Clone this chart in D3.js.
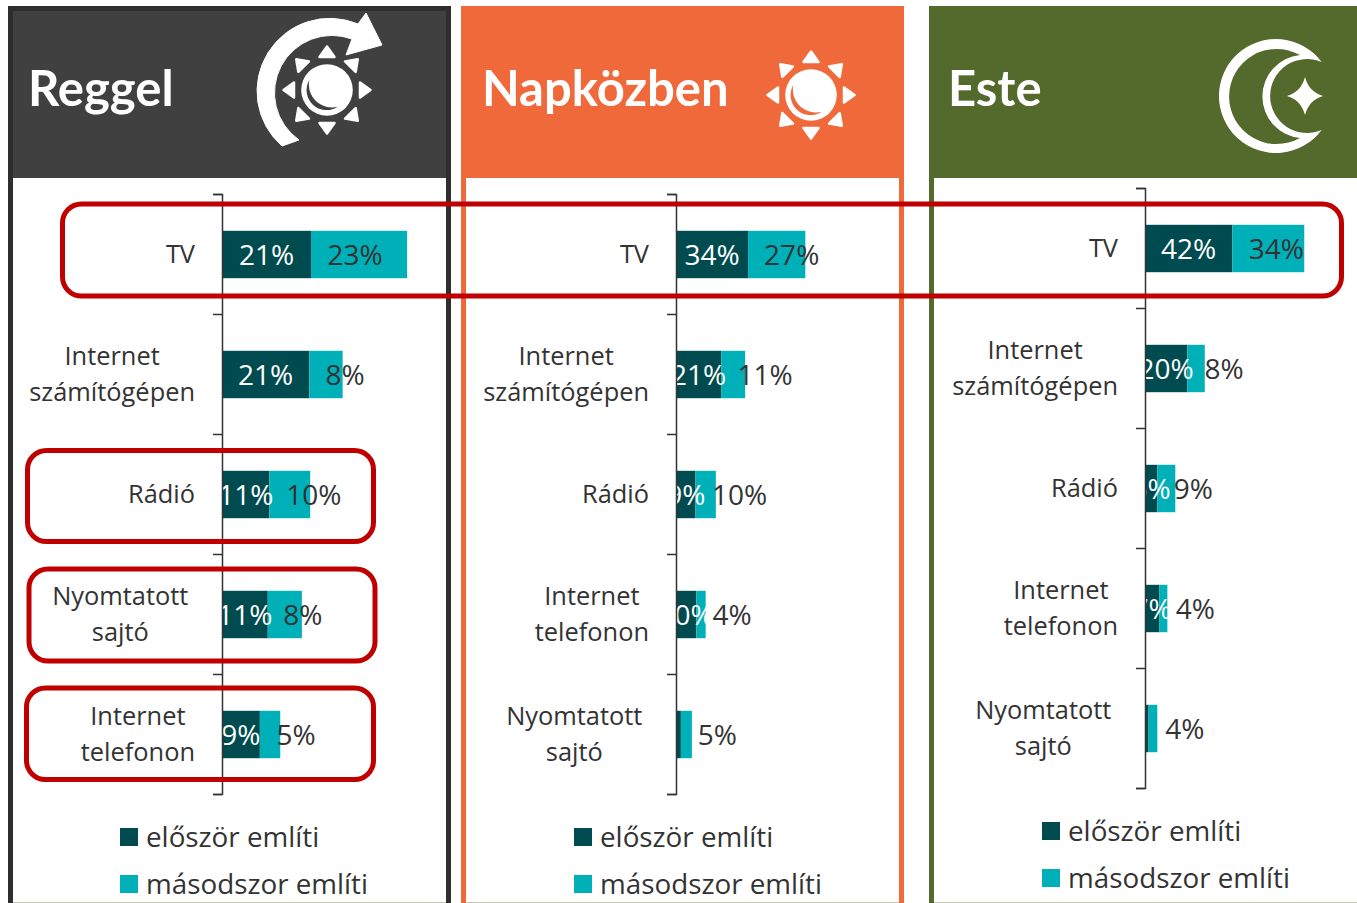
<!DOCTYPE html>
<html lang="hu">
<head>
<meta charset="utf-8">
<title>Reggel, napközben, este</title>
<script src="https://cdn.jsdelivr.net/npm/d3@7"></script>
<style>
  html, body { margin: 0; padding: 0; background: #fff; }
  svg { display: block; }
  text { font-family: "Open Sans", sans-serif; }
</style>
</head>
<body>
<script>

// data (share of people, %)
var titles = ["Reggel", "Napközben", "Este"];
var seriesNames = ["először említi", "másodszor említi"];

var categoriesMorning = ["TV", "Internet\nszámítógépen", "Rádió", "Nyomtatott\u00a0\nsajtó\u00a0", "Internet\ntelefonon"];
var firstMorning = [21.4, 21, 11.4, 11, 9.1];
var secondMorning = [23.1, 8, 9.8, 8.2, 4.9];

var categoriesDay = ["TV", "Internet\nszámítógépen", "Rádió", "Internet\ntelefonon", "Nyomtatott\u00a0\nsajtó\u00a0"];
var firstDay = [34, 21.3, 9.2, 9.6, 2.3];
var secondDay = [27, 11.3, 9.6, 4.4, 5.2];

var categoriesEvening = ["TV", "Internet\nszámítógépen", "Rádió", "Internet\ntelefonon", "Nyomtatott\u00a0\nsajtó\u00a0"];
var firstEvening = [41.8, 20.2, 5.9, 6.8, 1.7];
var secondEvening = [34.4, 8.4, 8.6, 3.9, 4.2];

// the labels were dragged by hand in the original, these are the px shifts
var nudgeMorning = [-4, 19, 24, 18, 26];
var nudgeDay = [15, 32, 34, 31, 31];
var nudgeEvening = [8, 28, 27, 32, 32];

var colors = ["#004b50", "#00b0b9"];
var width = 1357, height = 903;

var panels = [
  { title: titles[0], cats: categoriesMorning, a: firstMorning, b: secondMorning, nudge: nudgeMorning,
    x: 8, w: 443, color: "#404040", edge: "#2e2e2e", axisX: 222, top: 194, perCent: 4.16, legendX: 120, legendY: 828, icon: "arrowSun", iconX: 327, iconY: 90, titleX: 28 },
  { title: titles[1], cats: categoriesDay, a: firstDay, b: secondDay, nudge: nudgeDay,
    x: 461, w: 443, color: "#f0693a", edge: "#f0693a", axisX: 676, top: 194, perCent: 2.12, legendX: 574, legendY: 828, icon: "sun", iconX: 811, iconY: 95, titleX: 482 },
  { title: titles[2], cats: categoriesEvening, a: firstEvening, b: secondEvening, nudge: nudgeEvening,
    x: 929, w: 440, color: "#546a2d", edge: "#546a2d", axisX: 1145, top: 188, perCent: 2.09, legendX: 1042, legendY: 822, icon: "moon", iconX: 1276, iconY: 96, titleX: 948 }
];

var svg = d3.select("body").append("svg")
    .attr("width", width)
    .attr("height", height);

panels.forEach(drawPanel);

// red highlight frames go on top of everything
var frames = [
  [62.5, 204, 1279, 92],
  [27.5, 450.5, 346, 91],
  [29, 569, 346, 92],
  [26.5, 688, 347, 91.5]
];
svg.selectAll("rect.frame").data(frames).enter().append("rect")
    .attr("class", "frame")
    .attr("x", function(d) { return d[0]; })
    .attr("y", function(d) { return d[1]; })
    .attr("width", function(d) { return d[2]; })
    .attr("height", function(d) { return d[3]; })
    .attr("rx", 19)
    .attr("fill", "none")
    .attr("stroke", "#c00000")
    .attr("stroke-width", 5);


function drawPanel(p) {
  var g = svg.append("g");

  // frame and header
  g.append("rect").attr("x", p.x).attr("y", 6).attr("width", p.w).attr("height", height).attr("fill", p.edge);
  g.append("rect").attr("x", p.x + 5).attr("y", 178).attr("width", p.w - 10).attr("height", height).attr("fill", "#fff");
  g.append("rect").attr("x", p.x + 5).attr("y", 11).attr("width", p.w - 10).attr("height", 167).attr("fill", p.color);
  // thin pale line where the picture was cut off
  g.append("rect").attr("x", p.x + 5).attr("y", 902).attr("width", p.w - 10).attr("height", 1).attr("fill", "#c4c6b4");

  g.append("text")
      .attr("x", p.titleX)
      .attr("y", 89)
      .attr("dy", "0.35em")
      .attr("fill", "#fff")
      .style("font-family", "Lato")
      .style("font-weight", 700)
      .style("font-size", "49px")
      .text(p.title);

  drawIcon(g, p);

  // chart
  var y = d3.scaleBand().domain(p.cats).range([p.top, p.top + 600]);
  var x = d3.scaleLinear().domain([0, 100]).range([p.axisX, p.axisX + p.perCent * 100]);
  var barH = y.bandwidth() * 0.395;
  var rows = p.cats.map(function(c, i) { return { cat: c, a: p.a[i], b: p.b[i], nudge: p.nudge[i] }; });

  var row = g.selectAll("g.row").data(rows).enter().append("g")
      .attr("class", "row")
      .attr("transform", function(d) { return "translate(0," + (y(d.cat) + y.bandwidth() / 2) + ")"; });

  row.append("rect")
      .attr("x", x(0))
      .attr("y", -barH / 2 + 0.5)
      .attr("width", function(d) { return x(d.a) - x(0); })
      .attr("height", barH)
      .attr("fill", colors[0]);

  row.append("rect")
      .attr("x", function(d) { return x(d.a); })
      .attr("y", -barH / 2 + 0.5)
      .attr("width", function(d) { return x(d.b) - x(0); })
      .attr("height", barH)
      .attr("fill", colors[1]);

  // white on white outside the bar, same as the original. very small ones have no label
  row.filter(function(d) { return d.a > 3; }).append("text")
      .attr("x", function(d) { return x(d.a / 2); })
      .attr("y", 1)
      .attr("dy", "0.36em")
      .attr("text-anchor", "middle")
      .attr("fill", "#fff")
      .style("font-size", "28px")
      .text(function(d) { return Math.round(d.a) + "%"; });

  row.append("text")
      .attr("x", function(d) { return x(d.a + d.b / 2) + d.nudge; })
      .attr("y", 1)
      .attr("dy", "0.36em")
      .attr("text-anchor", "middle")
      .attr("fill", "#333")
      .style("font-size", "28px")
      .text(function(d) { return Math.round(d.b) + "%"; });

  // category labels, centred lines in a block that ends 27px left of the axis
  row.each(function(d) {
    var lines = d.cat.split("\n");
    var t = d3.select(this).selectAll("text.cat").data(lines).enter().append("text")
        .attr("class", "cat")
        .attr("y", function(l, i) { return (i - (lines.length - 1) / 2) * 35.5; })
        .attr("dy", "0.35em")
        .attr("text-anchor", "middle")
        .attr("fill", "#333")
        .style("font-size", "25.4px")
        .text(function(l) { return l; });
    var w = d3.max(t.nodes(), function(n) { return n.getComputedTextLength(); });
    t.attr("x", p.axisX - 27 - w / 2);
  });

  // axis with ticks between the categories
  var tickScale = d3.scaleLinear().domain([0, p.cats.length]).range([p.top, p.top + 600]);
  var axis = g.append("g")
      .attr("transform", "translate(" + p.axisX + ",0)")
      .call(d3.axisLeft(tickScale).ticks(p.cats.length).tickSize(9).tickFormat(""));
  axis.selectAll("path, line").attr("stroke", "#333").attr("stroke-width", 1.5);

  // legend
  var legend = g.selectAll("g.legend").data(seriesNames).enter().append("g")
      .attr("class", "legend")
      .attr("transform", function(d, i) { return "translate(" + p.legendX + "," + (p.legendY + i * 47) + ")"; });
  legend.append("rect")
      .attr("width", 18)
      .attr("height", 18)
      .attr("fill", function(d, i) { return colors[i]; });
  legend.append("text")
      .attr("x", 26)
      .attr("y", 9)
      .attr("dy", "0.35em")
      .attr("fill", "#333")
      .style("font-size", "27.8px")
      .text(function(d) { return d; });
}

function drawIcon(g, p) {
  var icon = g.append("g")
      .attr("transform", "translate(" + p.iconX + "," + p.iconY + ")")
      .attr("fill", "#fff");

  if (p.icon == "moon") {
    icon.append("path")
        .attr("fill-rule", "evenodd")
        .attr("d", "M45.7,-34 A57,57 0 1 0 45.7,34 A37,37 0 1 1 45.7,-34 Z" +
                   "M24,-41 A47.6,47.6 0 1 0 24,42 A41.7,41.7 0 0 1 24,-41 Z");
    icon.append("path")
        .attr("transform", "translate(29,0)")
        .attr("d", "M0,-19 Q4,-4 18,0 Q4,4 0,19 Q-4,4 -18,0 Q-4,-4 0,-19 Z");
    return;
  }

  if (p.icon == "arrowSun") {
    icon.append("path")
        .attr("d", "M-45,56 A72.8,72.8 0 0 1 31,-66 L39,-77 L55,-45 L19,-35 L25,-51 A57.5,57.5 0 0 0 -28,50 Z")
        .attr("stroke", "#fff")
        .attr("stroke-linejoin", "round");
  }

  icon.selectAll("path.ray").data(d3.range(8)).enter().append("path")
      .attr("class", "ray")
      .attr("transform", function(d) { return "rotate(" + d * 45 + ")"; })
      .attr("d", "M0,-43.5 L7.5,-33 L-7.5,-33 Z")
      .attr("stroke", "#fff")
      .attr("stroke-width", 2.5)
      .attr("stroke-linejoin", "round");
  icon.append("circle").attr("r", 25.8);
  icon.append("path")
      .attr("fill", p.color)
      .attr("d", "M-17.7,-10 A20,20 0 0 0 10.7,16.7 A23,23 0 0 1 -17.7,-10 Z");
}

</script>
</body>
</html>
